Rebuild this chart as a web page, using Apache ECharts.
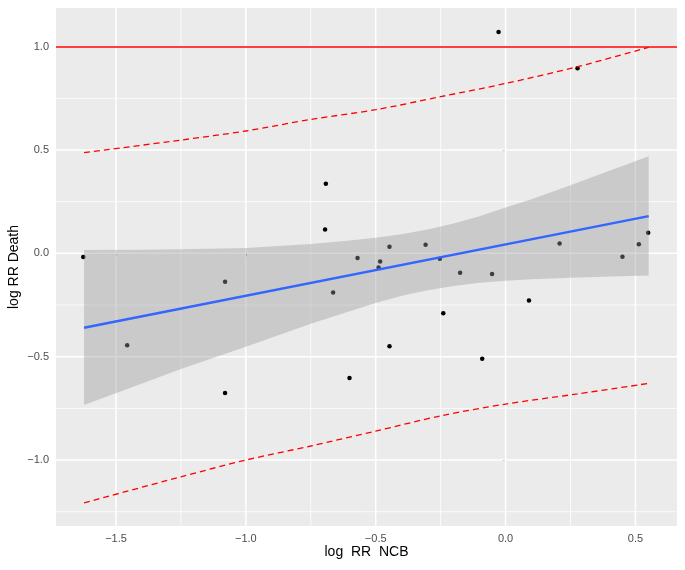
<!DOCTYPE html>
<html>
<head>
<meta charset="utf-8">
<script src="https://cdn.jsdelivr.net/npm/echarts@6/dist/echarts.min.js"></script>
<style>
  html, body { margin: 0; padding: 0; background: #fff; }
</style>
</head>
<body>
<div id="myChart" style="width:685px;height:570px;"></div>
<script>
// scatter points (log RR NCB, log RR Death)
var pointsX = [-1.626, -1.457, -1.080, -1.080, -0.695, -0.692, -0.664, -0.601, -0.570, -0.489, -0.483, -0.447, -0.447,
               -0.308, -0.253, -0.240, -0.175, -0.090, -0.052, -0.027, 0.090, 0.208, 0.277, 0.450, 0.513, 0.549];
var pointsY = [-0.018, -0.444, -0.137, -0.676, 0.116, 0.337, -0.189, -0.603, -0.023, -0.068, -0.039, 0.032, -0.449,
               0.042, -0.026, -0.290, -0.094, -0.510, -0.100, 1.071, -0.228, 0.048, 0.896, -0.016, 0.044, 0.100];

// fitted line ends
var fitX = [-1.623, 0.551];
var fitY = [-0.360, 0.180];

// confidence band
var bandX     = [-1.623, -1.4, -1.25, -1.0, -0.75, -0.6, -0.5, -0.4, -0.3, -0.2, -0.1, 0.0, 0.1, 0.25, 0.4, 0.551];
var bandUpper = [0.016, 0.018, 0.020, 0.026, 0.045, 0.062, 0.075, 0.092, 0.115, 0.145, 0.180, 0.222, 0.262, 0.330, 0.400, 0.470];
var bandLower = [-0.734, -0.630, -0.560, -0.452, -0.340, -0.280, -0.240, -0.205, -0.178, -0.158, -0.142, -0.132, -0.125, -0.118, -0.112, -0.107];

// prediction interval (dashed red)
var predX     = [-1.623, -1.25, -1.0, -0.75, -0.5, -0.25, 0.0, 0.277, 0.551];
var predUpper = [0.487, 0.548, 0.592, 0.648, 0.695, 0.758, 0.822, 0.903, 0.997];
var predLower = [-1.207, -1.081, -1.000, -0.932, -0.860, -0.786, -0.729, -0.680, -0.629];

var refLine = 1.0;

// axes
var xMin = -1.731, xMax = 0.660;
var yMin = -1.319, yMax = 1.187;
var xTicks = [-1.5, -1.0, -0.5, 0.0, 0.5];
var xMinor = [-1.25, -0.75, -0.25, 0.25];
var yTicks = [-1.0, -0.5, 0.0, 0.5, 1.0];
var yMinor = [-1.25, -0.75, -0.25, 0.25, 0.75];

function fmt(v) {
  return (v < 0 ? '\u2212' : '') + Math.abs(v).toFixed(1);
}
function pairs(xs, ys) {
  return xs.map(function (x, i) { return [x, ys[i]]; });
}

// gridlines drawn through the axis scales
function gridSeries(vals, dir, width) {
  return {
    type: 'custom',
    silent: true,
    z: 1,
    clip: true,
    data: vals.map(function (v) { return [v]; }),
    renderItem: function (params, api) {
      var cs = params.coordSys;
      var v = api.value(0);
      var shape;
      if (dir === 'x') {
        var px = api.coord([v, 0])[0];
        shape = { x1: px, y1: cs.y, x2: px, y2: cs.y + cs.height };
      } else {
        var py = api.coord([0, v])[1];
        shape = { x1: cs.x, y1: py, x2: cs.x + cs.width, y2: py };
      }
      return { type: 'line', shape: shape, style: { stroke: '#FFFFFF', lineWidth: width } };
    }
  };
}

var myChart = echarts.init(document.getElementById('myChart'));

myChart.setOption({
  backgroundColor: '#fff',
  animation: false,
  textStyle: { fontFamily: 'Liberation Sans, Arial, sans-serif' },
  grid: {
    left: 56, top: 8, right: 8, bottom: 44,
    outerBoundsMode: 'none',
    containLabel: false,
    show: true, backgroundColor: '#EBEBEB', borderWidth: 0
  },
  xAxis: {
    type: 'value',
    min: xMin, max: xMax,
    name: 'log  RR  NCB',
    nameLocation: 'middle',
    nameGap: 19,
    nameMoveOverlap: false,
    nameTextStyle: { color: '#000', fontSize: 14 },
    axisLine: { show: false },
    axisTick: { show: true, length: 3, customValues: xTicks, lineStyle: { color: '#333333', width: 1 } },
    axisLabel: { customValues: xTicks, color: '#4D4D4D', fontSize: 11, margin: 7, formatter: fmt },
    splitLine: { show: false }
  },
  yAxis: {
    type: 'value',
    min: yMin, max: yMax,
    name: 'log RR Death',
    nameLocation: 'middle',
    nameGap: 35,
    nameMoveOverlap: false,
    nameTextStyle: { color: '#000', fontSize: 14 },
    axisLine: { show: false },
    axisTick: { show: true, length: 3, customValues: yTicks, lineStyle: { color: '#333333', width: 1 } },
    axisLabel: { customValues: yTicks, color: '#4D4D4D', fontSize: 11, margin: 7, formatter: fmt },
    splitLine: { show: false }
  },
  series: [
    gridSeries(xMinor, 'x', 0.8),
    gridSeries(yMinor, 'y', 0.8),
    gridSeries(xTicks, 'x', 1.5),
    gridSeries(yTicks, 'y', 1.5),
    {
      name: 'points',
      type: 'scatter',
      z: 2,
      symbolSize: 4.5,
      itemStyle: { color: '#000000', opacity: 1 },
      data: pairs(pointsX, pointsY)
    },
    {
      name: 'band',
      type: 'custom',
      silent: true,
      z: 3,
      data: [[bandX[0], bandLower[0]]],
      renderItem: function (params, api) {
        var pts = [];
        for (var i = 0; i < bandX.length; i++) pts.push(api.coord([bandX[i], bandUpper[i]]));
        for (var j = bandX.length - 1; j >= 0; j--) pts.push(api.coord([bandX[j], bandLower[j]]));
        return {
          type: 'polygon',
          shape: { points: pts },
          style: { fill: 'rgba(153,153,153,0.4)', stroke: null }
        };
      }
    },
    {
      name: 'fit',
      type: 'line',
      z: 4,
      symbol: 'none',
      lineStyle: { color: '#3366FF', width: 2.4 },
      data: pairs(fitX, fitY)
    },
    {
      name: 'predUpper',
      type: 'line',
      z: 5,
      symbol: 'none',
      smooth: 0.3,
      lineStyle: { color: '#FF0000', width: 1.3, type: [6, 4] },
      data: pairs(predX, predUpper),
      markLine: {
        silent: true,
        symbol: 'none',
        label: { show: false },
        lineStyle: { color: '#FF0000', width: 1.5, type: 'solid' },
        data: [{ yAxis: refLine }]
      }
    },
    {
      name: 'predLower',
      type: 'line',
      z: 5,
      symbol: 'none',
      smooth: 0.3,
      lineStyle: { color: '#FF0000', width: 1.3, type: [6, 4] },
      data: pairs(predX, predLower)
    }
  ]
});
</script>
</body>
</html>
